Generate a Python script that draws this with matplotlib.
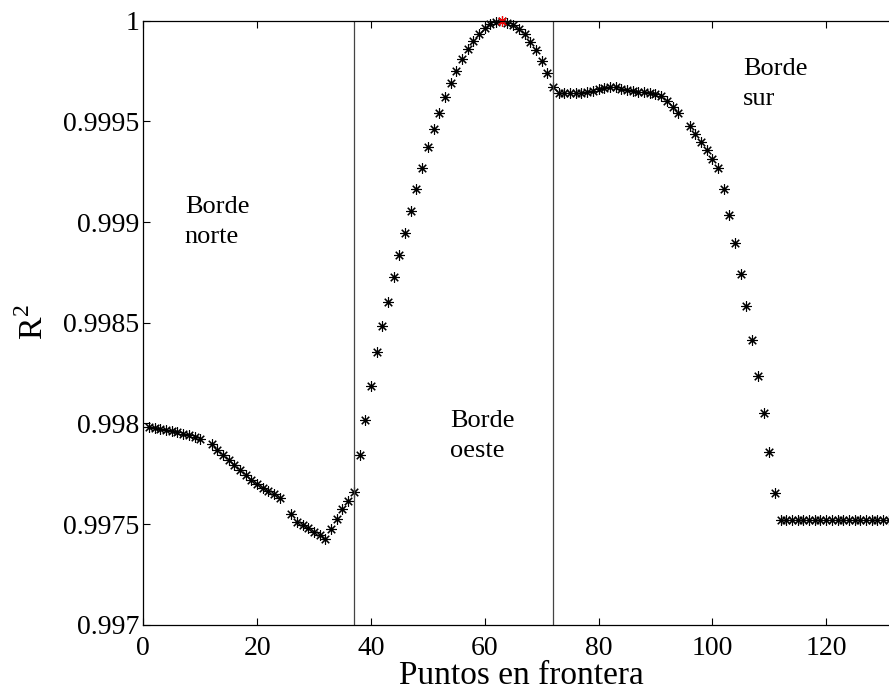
import matplotlib
matplotlib.use("Agg")
import matplotlib.pyplot as plt

plt.rcParams['font.family'] = ['Liberation Serif', 'DejaVu Serif']
plt.rcParams['mathtext.fontset'] = 'custom'
plt.rcParams['mathtext.rm'] = 'Liberation Serif'

# puntos en frontera (faltan 11, 25 y 95)
puntos = [1, 2, 3, 4, 5, 6, 7, 8, 9, 10,
          12, 13, 14, 15, 16, 17, 18, 19, 20, 21, 22, 23, 24,
          26, 27, 28, 29, 30, 31, 32, 33, 34, 35, 36, 37, 38, 39,
          40, 41, 42, 43, 44, 45, 46, 47, 48, 49, 50, 51, 52, 53, 54, 55,
          56, 57, 58, 59, 60, 61, 62, 63, 64, 65, 66, 67, 68, 69, 70, 71,
          72, 73, 74, 75, 76, 77, 78, 79, 80, 81, 82, 83, 84, 85, 86, 87,
          88, 89, 90, 91, 92, 93, 94,
          96, 97, 98, 99, 100, 101, 102, 103, 104, 105, 106, 107, 108, 109,
          110, 111, 112, 113, 114, 115, 116, 117, 118, 119, 120, 121, 122,
          123, 124, 125, 126, 127, 128, 129, 130, 131]

r2 = [0.99798, 0.997976, 0.997971, 0.997966, 0.997961, 0.997956, 0.997949,
      0.997942, 0.997934, 0.997922,
      0.997896, 0.997868, 0.997843, 0.997818, 0.997793, 0.997768, 0.997743,
      0.997719, 0.997699, 0.99768, 0.997666, 0.997649, 0.997628,
      0.997548, 0.997511, 0.997495, 0.997479, 0.997462, 0.997445, 0.997424,
      0.997474, 0.997523, 0.997573, 0.997616, 0.997661, 0.997843, 0.998017,
      0.998186, 0.998356, 0.998484, 0.998604, 0.998725, 0.998836, 0.998944,
      0.999056, 0.999164, 0.99927, 0.999371, 0.999462, 0.999543, 0.99962,
      0.999692, 0.999752,
      0.999808, 0.999858, 0.999901, 0.999934, 0.999962, 0.999984, 0.999992,
      1.0, 0.999991, 0.999979, 0.999959, 0.999934, 0.999896, 0.999854,
      0.999801, 0.999742,
      0.999672, 0.99964, 0.99964, 0.99964, 0.99964, 0.99964, 0.999644,
      0.999652, 0.999659, 0.999666, 0.999669, 0.999669, 0.999662, 0.999656,
      0.999651, 0.999647,
      0.999644, 0.99964, 0.999634, 0.999626, 0.999603, 0.999573, 0.999543,
      0.999477, 0.999437, 0.999399, 0.999358, 0.999315, 0.99927, 0.999163,
      0.999035, 0.998894, 0.998742, 0.998583, 0.998414, 0.998237, 0.998053,
      0.997856, 0.997653, 0.99752, 0.99752, 0.99752, 0.99752, 0.99752,
      0.99752, 0.99752, 0.99752, 0.99752, 0.99752, 0.99752, 0.99752,
      0.99752, 0.99752, 0.99752, 0.99752, 0.99752, 0.99752, 0.99752, 0.99752]

punto_max = 63
r2_max = 1.0

limites = [37, 72]

xticks = [0, 20, 40, 60, 80, 100, 120]
yticks = [0.997, 0.9975, 0.998, 0.9985, 0.999, 0.9995, 1.0]
ytick_labels = ['0.997', '0.9975', '0.998', '0.9985', '0.999', '0.9995', '1']

fig = plt.figure(figsize=(8.89, 6.90), dpi=100)
ax = fig.add_axes([0.1612, 0.0946, 0.8513, 0.8754])

asterisco = (8, 2, 0)
ax.plot(puntos, r2, linestyle='none', marker=asterisco, markersize=7.5,
        markeredgewidth=0.8, color='black', clip_on=False)
ax.plot([punto_max], [r2_max], linestyle='none', marker=asterisco,
        markersize=7.5, markeredgewidth=0.8, color='red', clip_on=False)

for xl in limites:
    ax.axvline(xl, color='#444444', linewidth=0.9)

ax.set_xlim(0, 133)
ax.set_ylim(0.997, 1.0)
ax.set_xticks(xticks)
ax.set_xticklabels([str(t) for t in xticks])
ax.set_yticks(yticks)
ax.set_yticklabels(ytick_labels)
ax.tick_params(direction='in', top=True, right=True, length=5, width=0.8,
               labelsize=20)
ax.tick_params(axis='x', pad=8)
ax.tick_params(axis='y', pad=3)
for s in ax.spines.values():
    s.set_linewidth(0.9)

ax.set_xlabel('Puntos en frontera', fontsize=24, labelpad=0)
ax.set_ylabel(r'$\mathrm{R}^2$', fontsize=24.5, labelpad=9)

ax.text(7.3, 0.999127, 'Borde\nnorte', fontsize=19, va='top', ha='left',
        linespacing=1.45)
ax.text(53.9, 0.998066, 'Borde\noeste', fontsize=19, va='top', ha='left',
        linespacing=1.45)
ax.text(105.4, 0.999813, 'Borde\nsur', fontsize=19, va='top', ha='left',
        linespacing=1.45)

fig.savefig('out.png', dpi=100)
